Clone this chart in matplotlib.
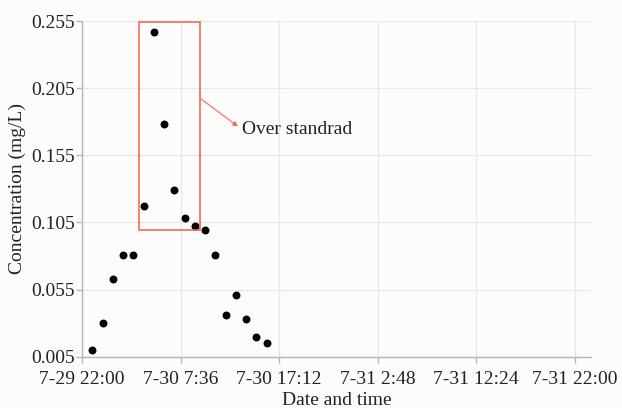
import matplotlib
matplotlib.use("Agg")
import matplotlib.pyplot as plt
import matplotlib.dates as mdates
from matplotlib.patches import Rectangle
from datetime import datetime, timedelta

plt.rcParams['font.family'] = ['Liberation Serif', 'DejaVu Serif']

# hourly samples, 7-29 23:00 .. 7-30 16:00
start = datetime(2020, 7, 29, 23, 0)
times = [start + timedelta(hours=h) for h in range(18)]
conc = [0.010, 0.030, 0.063, 0.081, 0.081, 0.117, 0.247, 0.178, 0.129,
        0.108, 0.102, 0.099, 0.081, 0.036, 0.051, 0.033, 0.020, 0.015]

tick_start = datetime(2020, 7, 29, 22, 0)
x_ticks = [tick_start + timedelta(hours=9.6 * i) for i in range(6)]
x_labels = ['7-29 22:00', '7-30 7:36', '7-30 17:12', '7-31 2:48', '7-31 12:24', '7-31 22:00']
y_ticks = [0.005, 0.055, 0.105, 0.155, 0.205, 0.255]
y_labels = ['0.005', '0.055', '0.105', '0.155', '0.205', '0.255']

# box around the values over the standard
box_t0 = tick_start + timedelta(hours=5.55)
box_t1 = tick_start + timedelta(hours=11.5)
box_c0, box_c1 = 0.0994, 0.2545

bg = '#fdfcfa'
fig = plt.figure(figsize=(6.22, 4.08), dpi=100, facecolor=bg)
ax = fig.add_axes([0.1318, 0.1257, 0.8184, 0.8228], facecolor=bg)

ax.scatter(times, conc, s=22, color='black', zorder=3)

x0 = mdates.date2num(box_t0)
x1 = mdates.date2num(box_t1)
ax.add_patch(Rectangle((x0, box_c0), x1 - x0, box_c1 - box_c0,
                       fill=False, edgecolor='#f26b5b', linewidth=1.2, zorder=4))

# arrow from the box to the note
ax.annotate('', xy=(tick_start + timedelta(hours=15.2), 0.1765), xytext=(x1, 0.1975),
            arrowprops=dict(arrowstyle='-|>', color='#f26b5b', lw=0.8,
                            mutation_scale=7, shrinkA=0, shrinkB=0))
ax.text(mdates.date2num(tick_start + timedelta(hours=15.6)), 0.1745, 'Over standrad',
        fontsize=14, color='#222222', va='center', ha='left')

ax.set_xlim(mdates.date2num(tick_start), mdates.date2num(tick_start + timedelta(hours=49.6)))
ax.set_ylim(0.005, 0.255)
ax.set_xticks([mdates.date2num(t) for t in x_ticks])
ax.set_xticklabels(x_labels)
ax.set_yticks(y_ticks)
ax.set_yticklabels(y_labels)

ax.grid(True, color='#e8e8e8', linewidth=0.9)
ax.set_axisbelow(True)
for s in ['top', 'right']:
    ax.spines[s].set_visible(False)
for s in ['left', 'bottom']:
    ax.spines[s].set_color('#b5b5b5')
    ax.spines[s].set_linewidth(1.0)
ax.tick_params(axis='both', colors='#b5b5b5', labelcolor='#222222',
               labelsize=14, length=4, width=1.0)
ax.tick_params(axis='x', pad=6)
ax.tick_params(axis='y', pad=1)

ax.set_xlabel('Date and time', fontsize=14, color='#222222', labelpad=3)
ax.set_ylabel('Concentration (mg/L)', fontsize=14, color='#222222', labelpad=4)

fig.savefig('out.png', dpi=100, facecolor=bg)
